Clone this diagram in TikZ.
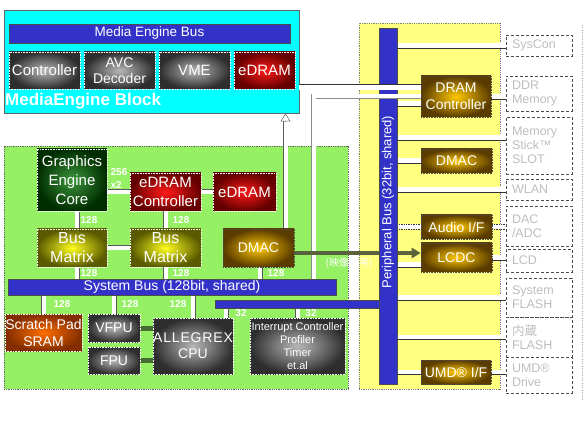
\documentclass[tikz,border=0pt]{standalone}
\usepackage{fontspec}
\setmainfont{Liberation Sans}
\newfontfamily\cjk{Noto Sans CJK JP}
\usetikzlibrary{arrows.meta}
\definecolor{mecyan}{RGB}{0,255,255}
\definecolor{busblue}{RGB}{50,50,200}
\definecolor{lgreen}{RGB}{150,240,100}
\definecolor{lyellow}{RGB}{255,255,128}
\definecolor{olivearrow}{RGB}{90,100,60}
\definecolor{gconnc}{RGB}{70,110,50}
\definecolor{rin}{RGB}{255,25,25}
\definecolor{rout}{RGB}{100,0,0}
\definecolor{gin}{RGB}{60,150,60}
\definecolor{gout}{RGB}{0,45,0}
\definecolor{yin}{RGB}{255,255,30}
\definecolor{yout}{RGB}{90,90,0}
\definecolor{din}{RGB}{255,200,0}
\definecolor{dout}{RGB}{90,60,0}
\definecolor{sin}{RGB}{255,110,0}
\definecolor{sout}{RGB}{130,45,0}
\definecolor{gtext}{RGB}{190,190,190}
\newcommand\myfs[2]{\fontsize{#1}{#2}\selectfont}
\pgfdeclarelayer{bg}
\pgfdeclarelayer{conn}
\pgfsetlayers{bg,conn,main}
\begin{document}
\begin{tikzpicture}[x=1pt,y=-1pt,
  region/.style={inner sep=0pt, line width=0.8pt},
  box/.style={draw=white, densely dotted, line width=0.6pt, text=white, align=center, inner sep=0pt},
  gbox/.style={box, inner color=black!28, outer color=black!82},
  rbox/.style={box, inner color=rin, outer color=rout},
  gcbox/.style={box, inner color=gin, outer color=gout},
  bmbox/.style={box, inner color=yin, outer color=yout},
  dbox/.style={box, inner color=din, outer color=dout, draw=black!70},
  sbox/.style={box, inner color=sin, outer color=sout},
  bus/.style={fill=busblue, draw=black!70, line width=0.6pt, text=white, inner sep=0pt},
  rb/.style={draw=black!70, dash pattern=on 3pt off 2pt, line width=0.7pt, text=gtext, align=left, text width=54pt, minimum width=66pt, inner sep=0pt, font=\myfs{12.5}{14}},
  lbl/.style={font=\bfseries\myfs{10}{13}, text=white, inner sep=0pt, align=left},
  wbar/.style={draw=black!65, line width=0.5pt, double=white, double distance=4pt},
  gband/.style={draw=black!45, line width=0.5pt, double=white, double distance=4pt},
  pconn/.style={draw=white, line width=5pt, postaction={draw=black!80, line width=0.7pt, transform canvas={yshift=-2.5pt}}},
  pconnd/.style={draw=white, line width=5pt, postaction={draw=black!80, line width=0.7pt, densely dotted, transform canvas={yshift=-2.5pt}}, postaction={draw=black!80, line width=0.7pt, densely dotted, transform canvas={yshift=2.5pt}}},
  gconn/.style={draw=gconnc, line width=5pt}
]
\useasboundingbox (0,0) rectangle (584,422);
\begin{pgfonlayer}{bg}
\fill[white] (0,0) rectangle (584,422);
\node[region, fill=mecyan, draw=black!60, minimum width=295pt, minimum height=103pt] (ME) at (151.5,61.5) {};
\node[region, fill=lgreen, draw=black!60, densely dotted, minimum width=344pt, minimum height=243pt] (GB) at (176,267.5) {};
\node[region, fill=lyellow, draw=black!50, densely dotted, minimum width=141pt, minimum height=366pt] (YB) at (429.5,206) {};
\draw[black!35, dotted] (582,25) -- (582,400);
\end{pgfonlayer}

% Media Engine block
\node[bus, minimum width=281pt, minimum height=19pt, font=\myfs{13.5}{15}] (MEbus) at (149.5,33.5) {Media Engine Bus};
\node[gbox, minimum width=71pt, minimum height=37pt, font=\myfs{15}{16}] (MECtrl) at (44.5,70.5) {Controller};
\node[gbox, minimum width=71pt, minimum height=37pt, font=\myfs{14}{15.5}] (AVC) at (119.5,70.5) {AVC\\Decoder};
\node[gbox, minimum width=71pt, minimum height=37pt, font=\myfs{15}{16}] (VME) at (194.5,70.5) {VME};
\node[rbox, minimum width=61pt, minimum height=37pt, font=\myfs{15}{16}] (MEeDRAM) at (264.5,70.5) {eDRAM};
\node[anchor=west, text=white, font=\bfseries\myfs{17}{18}, inner sep=0pt] (MElbl) at (5,101) {MediaEngine Block};

% Main CPU block
\node[gcbox, minimum width=70pt, minimum height=62pt, font=\myfs{15}{19}] (GEC) at (72,180) {Graphics\\Engine\\Core};
\node[rbox, minimum width=71pt, minimum height=38pt, font=\myfs{15}{19}] (eDRAMC) at (165.5,192) {eDRAM\\Controller};
\node[rbox, minimum width=63pt, minimum height=38pt, font=\myfs{15}{16}] (eDRAM2) at (244.5,192) {eDRAM};
\node[bmbox, minimum width=70pt, minimum height=38pt, font=\myfs{16}{19}] (BM1) at (72,248) {Bus\\Matrix};
\node[bmbox, minimum width=71pt, minimum height=38pt, font=\myfs{16}{19}] (BM2) at (165.5,248) {Bus\\Matrix};
\node[dbox, minimum width=71pt, minimum height=38pt, font=\myfs{14}{16}] (DMAC1) at (258.5,248) {DMAC};
\node[bus, minimum width=328pt, minimum height=16pt, font=\myfs{14}{15}] (SysBus) at (172,287) {System Bus (128bit, shared)};
\node[bus, minimum width=165pt, minimum height=8pt] (ThinBus) at (297.5,304) {};
\node[sbox, minimum width=77pt, minimum height=37pt, font=\myfs{14}{17}] (SPSRAM) at (43.5,332.5) {Scratch Pad\\SRAM};
\node[gbox, minimum width=52pt, minimum height=28pt, font=\myfs{14}{15}] (VFPU) at (114,328) {VFPU};
\node[gbox, minimum width=52pt, minimum height=27pt, font=\myfs{14}{15}] (FPU) at (114,360.5) {FPU};
\node[gbox, minimum width=80pt, minimum height=56pt, font=\myfs{14}{16}] (CPU) at (193,346) {\addfontfeature{LetterSpace=6}ALLEGREX\\CPU};
\node[gbox, minimum width=95pt, minimum height=56pt, font=\myfs{11}{13}] (INT) at (297.5,346) {Interrupt Controller\\Profiler\\Timer\\et.al};

% Peripheral block
\node[bus, minimum width=18pt, minimum height=356pt] (PBus) at (388,206) {};
\node[dbox, minimum width=70pt, minimum height=41pt, font=\myfs{14}{17}] (DRAMC) at (456,96.5) {DRAM\\Controller};
\node[dbox, minimum width=71pt, minimum height=24pt, font=\myfs{14}{16}] (DMAC2) at (456.5,161) {DMAC};
\node[dbox, minimum width=71pt, minimum height=24pt, font=\myfs{14}{16}] (Audio) at (456.5,227) {Audio I/F};
\node[dbox, minimum width=71pt, minimum height=29pt, font=\myfs{14}{16}] (LCDC) at (456.5,257.5) {LCDC};
\node[dbox, minimum width=70pt, minimum height=24pt, font=\myfs{14}{16}] (UMD) at (456,372) {UMD® I/F};

% external devices
\node[rb, minimum height=21pt] (SysCon) at (539,45.5) {SysCon};
\node[rb, minimum height=35pt] (DDR) at (539,93.5) {DDR\\Memory};
\node[rb, minimum height=57pt] (MS) at (539,145.5) {Memory\\Stick™\\SLOT};
\node[rb, minimum height=21pt] (WLAN) at (539,189.5) {WLAN};
\node[rb, minimum height=40pt] (DAC) at (539,226) {DAC\\/ADC};
\node[rb, minimum height=23pt] (LCD) at (539,260.5) {LCD};
\node[rb, minimum height=39pt] (SysFL) at (539,297.5) {System\\FLASH};
\node[rb, minimum height=40pt] (IntFL) at (539,337) {{\cjk 内蔵}\\FLASH};
\node[rb, minimum height=36pt] (UMDD) at (539,375) {UMD®\\Drive};

% bus width labels
\node[lbl] (l1) at (89,220) {128};
\node[lbl] (l2) at (181,220) {128};
\node[lbl] (l3) at (89,273) {128};
\node[lbl] (l4) at (181,273) {128};
\node[lbl] (l5) at (276,273) {128};
\node[lbl] (l6) at (62,304) {128};
\node[lbl] (l7) at (130,304) {128};
\node[lbl] (l8) at (178,304) {128};
\node[lbl] (l9) at (241,313) {32};
\node[lbl] (l10) at (311,313) {32};
\node[lbl] (l11) at (119,179) {256\\x2};

\begin{pgfonlayer}{conn}
\draw[wbar] (GEC.east |- eDRAMC.west) -- (eDRAMC.west);
\draw[wbar] (eDRAMC.east) -- (eDRAM2.west);
\draw[wbar] ([xshift=5pt]GEC.south) -- ([xshift=5pt]BM1.north);
\draw[wbar] (eDRAMC.south) -- (BM2.north);
\draw[wbar] (BM1.east) -- (BM2.west);
\coordinate (b1) at ([xshift=5pt]BM1.south);
\draw[wbar] (b1) -- (b1 |- SysBus.north);
\draw[wbar] (BM2.south) -- (BM2.south |- SysBus.north);
\coordinate (dm) at ([xshift=1.5pt]DMAC1.south);
\draw[wbar] (dm) -- (dm |- SysBus.north);
\draw[wbar] (SPSRAM.north) -- (SPSRAM.north |- SysBus.south);
\draw[wbar] (VFPU.north) -- (VFPU.north |- SysBus.south);
\draw[wbar] (CPU.north) -- (CPU.north |- SysBus.south);
\coordinate (c32) at ([xshift=33pt]CPU.north);
\draw[wbar] (c32) -- (c32 |- ThinBus.south);
\draw[wbar] (INT.north) -- (INT.north |- ThinBus.south);
\draw[gconn] (VFPU.east) -- (VFPU.east -| CPU.west);
\draw[gconn] (FPU.east) -- (FPU.east -| CPU.west);
% DMAC up to Media Engine
\coordinate (up) at ([xshift=27pt]DMAC1.north);
\coordinate (upt) at (up |- ME.south);
\draw[wbar, shorten >=7pt] (up) -- (upt);
\draw[-{Triangle[length=8pt,width=10pt,fill=white]}, draw=black!60, line width=0.5pt] ([yshift=-8pt]upt) -- (upt);
% DRAM controller to system bus
\coordinate (drx) at (313.5,0);
\draw[gband] (DRAMC.west) -| (drx |- SysBus.north);
% DMAC to LCDC (passes under the peripheral bus)
\coordinate (da) at ([yshift=-5pt]DMAC1.east);
\draw[-{Triangle[length=9pt,width=10pt]}, olivearrow, line width=4pt] (da) -- (da -| LCDC.west);
% peripheral bus connections
\draw[pconn] (SysCon.west -| PBus.east) -- (SysCon.west);
\coordinate (dr1) at ([yshift=-7.5pt]DRAMC.west);
\draw[pconn] (dr1 -| PBus.east) -- (dr1);
\draw[pconn] (DRAMC.east) -- (DRAMC.east -| DDR.west);
\coordinate (ms) at ([yshift=8pt]MS.west);
\draw[pconn] (ms -| PBus.east) -- (ms);
\draw[pconn] (DMAC2.west -| PBus.east) -- (DMAC2.west);
\draw[pconn] (WLAN.west -| PBus.east) -- (WLAN.west);
\draw[pconnd] (Audio.west -| PBus.east) -- (Audio.west);
\draw[pconnd] (Audio.east) -- (Audio.east -| DAC.west);
\coordinate (lc) at ([yshift=-7pt]LCDC.west);
\draw[pconn] (lc -| PBus.east) -- (lc);
\draw[pconn] (LCDC.east) -- (LCDC.east -| LCD.west);
\draw[pconn] (SysFL.west -| PBus.east) -- (SysFL.west);
\draw[pconn] (IntFL.west -| PBus.east) -- (IntFL.west);
\draw[pconn] (UMD.west -| PBus.east) -- (UMD.west);
\draw[pconn] (UMD.east) -- (UMD.east -| UMDD.west);
\end{pgfonlayer}

\node[rotate=90, text=white, font=\myfs{13}{14}, inner sep=0pt] (PBusT) at (388,202) {Peripheral Bus (32bit, shared)};
\node[font=\cjk\myfs{10}{11}, text=white, inner sep=0pt] (sig) at (349,263) {(映像信号)};

% Media Engine eDRAM to DRAM controller and DRAM controller band, crossing the bus
\coordinate (ed) at ([yshift=-13.5pt]MEeDRAM.east);
\draw[white, line width=6pt, transform canvas={yshift=-3pt}] (ed -| ME.east) -- (ed -| DRAMC.west);
\draw[black!80, line width=0.8pt] (ed -| ME.east) -- (ed -| DRAMC.west);
\draw[gband] (DRAMC.west) -- (DRAMC.west -| YB.west);
\end{tikzpicture}
\end{document}
